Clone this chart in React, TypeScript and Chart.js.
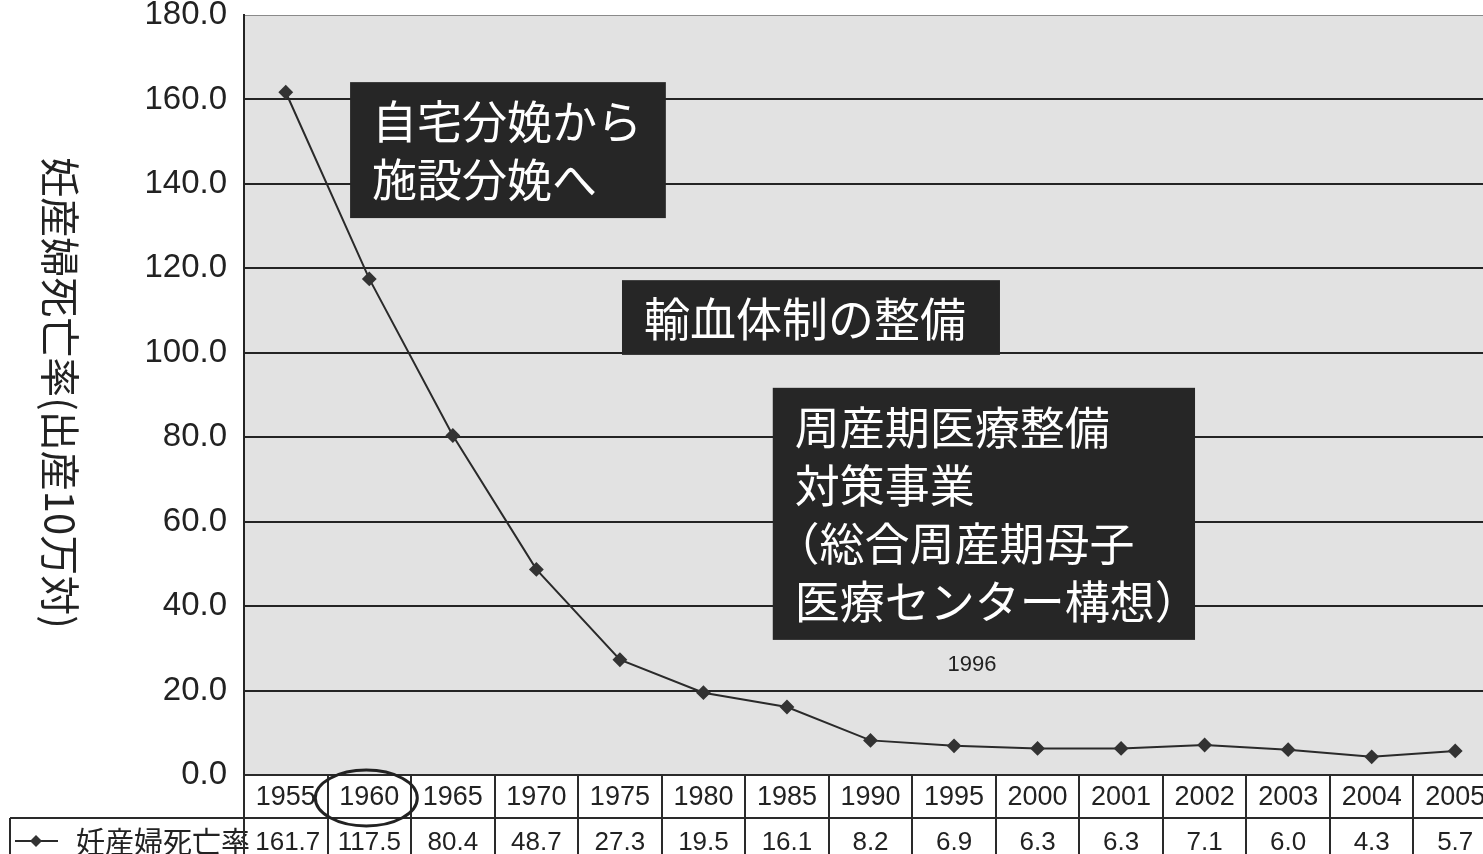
import React, { useEffect, useRef } from "react";
import { Chart, registerables } from "chart.js";

Chart.register(...registerables);

const years = ["1955", "1960", "1965", "1970", "1975", "1980", "1985", "1990", "1995", "2000", "2001", "2002", "2003", "2004", "2005"];
const rates = [161.7, 117.5, 80.4, 48.7, 27.3, 19.5, 16.1, 8.2, 6.9, 6.3, 6.3, 7.1, 6.0, 4.3, 5.7];
const seriesName = "妊産婦死亡率";
const yTitle = "妊産婦死亡率(出産10万対)";
const yMin = 0;
const yMax = 180;
const yStep = 20;

// annotation boxes placed in data space (category index, value)
const notes = [
  { lines: ["自宅分娩から", "施設分娩へ"], x0: 0.77, x1: 4.55, yTop: 164.1, yBottom: 131.9, size: 45 },
  { lines: ["輸血体制の整備"], x0: 4.025, x1: 8.55, yTop: 117.2, yBottom: 99.5, size: 46 },
  { lines: ["周産期医療整備", "対策事業", "（総合周産期母子", "医療センター構想）"], x0: 5.83, x1: 10.885, yTop: 91.7, yBottom: 32.0, size: 45 },
];
const yearNote = { text: "1996", x: 8.215, y: 26.05 };
const circledIndex = 1;

const CJK = "'Noto Sans CJK JP', 'Noto Sans', sans-serif";
const NUM = "'Liberation Sans', Arial, sans-serif";

export default function App() {
  const ref = useRef<HTMLCanvasElement | null>(null);

  useEffect(() => {
    document.body.style.margin = "0";
    document.body.style.overflow = "hidden";
    const canvas = ref.current;
    if (!canvas) return;

    const bgPlugin = {
      id: "bg",
      beforeDraw(chart: any) {
        const { ctx, chartArea: a } = chart;
        ctx.save();
        ctx.fillStyle = "#ffffff";
        ctx.fillRect(0, 0, chart.width, chart.height);
        ctx.fillStyle = "#e2e2e2";
        ctx.fillRect(a.left, a.top, a.right - a.left, a.bottom - a.top);
        ctx.restore();
      },
    };

    const overlayPlugin = {
      id: "overlay",
      afterDraw(chart: any) {
        const { ctx, chartArea: a } = chart;
        const xs = chart.scales.x;
        const ys = chart.scales.y;
        const colW = (a.right - a.left) / years.length;
        ctx.save();

        // y title (rotated clockwise)
        ctx.save();
        ctx.translate(60, 393);
        ctx.rotate(Math.PI / 2);
        ctx.fillStyle = "#222";
        ctx.font = `40px ${CJK}`;
        ctx.textAlign = "center";
        ctx.textBaseline = "middle";
        ctx.fillText(yTitle, 0, 0);
        ctx.restore();

        // annotations
        notes.forEach((n) => {
          const l = xs.getPixelForValue(n.x0);
          const r = xs.getPixelForValue(n.x1);
          const t = ys.getPixelForValue(n.yTop);
          const b = ys.getPixelForValue(n.yBottom);
          ctx.fillStyle = "#262626";
          ctx.fillRect(l, t, r - l, b - t);
          ctx.fillStyle = "#ffffff";
          ctx.font = `${n.size}px ${CJK}`;
          ctx.textAlign = "left";
          ctx.textBaseline = "middle";
          const L = n.lines.length === 1 ? b - t : 58;
          const pad = (b - t - L * n.lines.length) / 2;
          n.lines.forEach((s, i) => {
            const shift = s.startsWith("（") ? n.size * 0.45 : 0;
            ctx.fillText(s, l + 22 - shift, t + pad + L * i + L / 2 + 1);
          });
        });
        ctx.fillStyle = "#222";
        ctx.font = `22px ${NUM}`;
        ctx.textAlign = "center";
        ctx.textBaseline = "middle";
        ctx.fillText(yearNote.text, xs.getPixelForValue(yearNote.x), ys.getPixelForValue(yearNote.y));

        // data table
        const top = a.bottom;
        const mid = top + 43;
        const bottom = chart.height + 2;
        ctx.strokeStyle = "#2a2a2a";
        ctx.lineWidth = 2;
        ctx.beginPath();
        for (let i = 0; i <= years.length; i++) {
          const x = Math.round(a.left + i * colW);
          ctx.moveTo(x, top);
          ctx.lineTo(x, bottom);
        }
        ctx.moveTo(10, mid);
        ctx.lineTo(a.right, mid);
        ctx.moveTo(10, mid);
        ctx.lineTo(10, bottom);
        ctx.moveTo(a.left, top);
        ctx.lineTo(a.right, top);
        ctx.stroke();

        ctx.fillStyle = "#222";
        ctx.textAlign = "center";
        ctx.textBaseline = "middle";
        ctx.font = `27px ${NUM}`;
        years.forEach((y, i) => {
          ctx.fillText(y, xs.getPixelForValue(i), top + 23);
        });
        ctx.font = `26px ${NUM}`;
        rates.forEach((v, i) => {
          ctx.fillText(v.toFixed(1), xs.getPixelForValue(i) + (i === 0 ? 2 : 0), mid + 25);
        });

        // legend key
        const ly = mid + 23;
        ctx.beginPath();
        ctx.moveTo(15, ly);
        ctx.lineTo(58, ly);
        ctx.stroke();
        ctx.fillStyle = "#333";
        ctx.beginPath();
        ctx.moveTo(36, ly - 6);
        ctx.lineTo(42, ly);
        ctx.lineTo(36, ly + 6);
        ctx.lineTo(30, ly);
        ctx.closePath();
        ctx.fill();
        ctx.fillStyle = "#222";
        ctx.textAlign = "left";
        ctx.font = `29px ${CJK}`;
        ctx.fillText(seriesName, 76, ly + 1);
        // redraw the divider over the legend text
        ctx.beginPath();
        ctx.moveTo(Math.round(a.left), mid);
        ctx.lineTo(Math.round(a.left), bottom);
        ctx.stroke();

        // circle around highlighted year
        ctx.lineWidth = 3;
        ctx.strokeStyle = "#222";
        ctx.beginPath();
        ctx.ellipse(xs.getPixelForValue(circledIndex) - 3, top + 23, 51, 28, 0, 0, Math.PI * 2);
        ctx.stroke();

        ctx.restore();
      },
    };

    const chart = new Chart(canvas, {
      type: "line",
      data: {
        labels: years,
        datasets: [
          {
            label: seriesName,
            data: rates,
            borderColor: "#2a2a2a",
            borderWidth: 2,
            pointStyle: "rectRot",
            pointRadius: 6,
            pointBackgroundColor: "#333",
            pointBorderColor: "#333",
            tension: 0,
          },
        ],
      },
      options: {
        responsive: false,
        animation: false,
        layout: { padding: { top: 15, bottom: 79, left: 0, right: 13 } },
        plugins: { legend: { display: false }, tooltip: { enabled: false } },
        scales: {
          x: { display: false, offset: true },
          y: {
            min: yMin,
            max: yMax,
            ticks: {
              stepSize: yStep,
              padding: 17,
              color: "#222",
              font: { size: 33, family: NUM },
              callback: (v: any) => Number(v).toFixed(1),
            },
            grid: {
              drawTicks: false,
              color: (c: any) => (c.tick && c.tick.value === yMax ? "#8a8a8a" : "#242424"),
              lineWidth: (c: any) => (c.tick && c.tick.value === yMax ? 1 : 2),
            },
            border: { display: true, color: "#242424", width: 2 },
            afterFit: (s: any) => {
              s.width = 244;
              s.paddingTop = 0;
              s.paddingBottom = 0;
            },
          },
        },
      },
      plugins: [bgPlugin, overlayPlugin],
    });
    return () => chart.destroy();
  }, []);

  return (
    <div style={{ width: 1483, height: 854, overflow: "hidden", position: "relative" }}>
      <canvas ref={ref} width={1510} height={854} style={{ display: "block" }} />
    </div>
  );
}
